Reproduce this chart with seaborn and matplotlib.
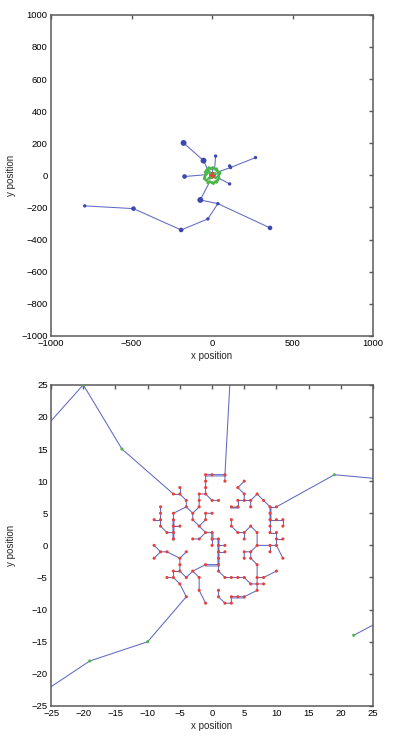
import matplotlib
matplotlib.use('Agg')
import pandas as pd
import matplotlib.pyplot as plt
import seaborn as sns

# --- inner tree (red nodes) ---
inner_chains = [
    [(-6, 8), (-5, 8), (-5, 9)],
    [(-5, 8), (-4, 7), (-4, 6), (-3, 5), (-3, 4), (-2, 3), (-1, 2), (0, 2), (0, 1), (1, 1), (1, 0),
     (1, -1), (1, -2), (1, -3), (1, -4), (2, -5), (3, -5), (4, -5), (5, -5), (6, -6), (7, -6), (8, -6)],
    [(-4, 6), (-6, 5), (-6, 4), (-6, 3), (-6, 2), (-6, 1)],
    [(-6, 3), (-5, 3)],
    [(-6, 2), (-7, 2), (-8, 3), (-8, 4), (-8, 5), (-8, 6)],
    [(-8, 4), (-9, 4)],
    [(-3, 5), (-2, 6), (-2, 7), (-2, 8), (-1, 8), (-1, 9), (-1, 10), (-1, 11), (0, 11), (2, 11), (2, 10)],
    [(-1, 8), (0, 7), (1, 7)],
    [(-2, 3), (-1, 4), (-1, 5), (0, 5)],
    [(-1, 2), (-2, 1), (-3, 1)],
    [(0, 1), (0, 0)],
    [(1, 0), (2, 0)],
    [(1, -1), (2, -1)],
    [(1, -3), (-1, -3), (-3, -4), (-4, -5), (-5, -4), (-5, -3), (-5, -2), (-7, -1), (-8, -1), (-9, 0)],
    [(-8, -1), (-9, -2)],
    [(-5, -2), (-4, -1)],
    [(-5, -4), (-6, -4), (-6, -5), (-7, -5)],
    [(-6, -5), (-5, -6), (-4, -8)],
    [(-3, -4), (-2, -5), (-2, -7), (-1, -9)],
    [(7, -6), (7, -7), (5, -8), (4, -8), (3, -8), (3, -9), (2, -9), (1, -8), (1, -7)],
    [(7, -6), (7, -5), (7, -3), (6, -2), (6, -1), (5, -1), (5, -2)],
    [(7, -5), (8, -5), (10, -4)],
    [(6, -1), (7, 0), (9, 0), (10, 0), (11, -2)],
    [(9, 0), (9, -1)],
    [(7, 0), (7, 2), (6, 3), (5, 2), (4, 2), (3, 3), (3, 4)],
    [(5, 2), (5, 1)],
    [(10, 0), (10, 1), (10, 2), (9, 2), (9, 3), (9, 4), (9, 5), (9, 6), (10, 6)],
    [(10, 1), (11, 1)],
    [(9, 4), (10, 4), (11, 4), (11, 3)],
    [(9, 6), (8, 7), (7, 8), (6, 7), (6, 6)],
    [(6, 7), (5, 7), (4, 7), (4, 6), (3, 6)],
    [(5, 7), (5, 8), (4, 9), (5, 10)],
]

# overlapping (lavender) edges
thick_chains = [
    [(-1, 11), (2, 11)],
    [(-1, -3), (1, -3)],
    [(1, 1), (1, -3)],
    [(-6, 4), (-6, 1)],
    [(0, 2), (0, 1)],
    [(3, 6), (4, 6)],
    [(5, -8), (3, -8)],
    [(9, 6), (9, 4)],
]

# links from the inner tree out to the ring (green nodes)
link_chains = [
    [(-6, 8), (-14, 15), (-20, 25), (-33, 10.4)],
    [(2, 11), (4, 48)],
    [(10, 6), (19, 11), (45, 8.6)],
    [(-4, -8), (-10, -15), (-19, -18), (-37, -30)],
    [(22, -14), (40, -4.4)],
]

# ring of green nodes around the cluster
ring_chains = [
    [(4, 48), (-8, 42), (-28, 38), (-42, 20), (-33, 10.4), (-40, 4), (-45, -10), (-37, -30),
     (-15, -40), (0, -45), (20, -40), (35, -30), (42, -18), (40, -4.4), (45, 8.6),
     (38, 22), (30, 30), (16, 40), (4, 48)],
    [(-8, 42), (-20, 47)],
    [(-28, 38), (-35, 30)],
    [(30, 30), (28, 40)],
    [(-45, -10), (-48, -20)],
    [(0, -45), (8, -50)],
    [(35, -30), (28, -42)],
    [(38, 22), (48, 18)],
    [(-15, -40), (-26, -45)],
]

# far-out blue nodes (upper panel)
outer_chains = [
    [(-28, 38), (-53, 92), (-177, 202)],
    [(16, 40), (22, 120)],
    [(38, 22), (115, 49), (270, 111)],
    [(115, 49), (109, 59)],
    [(-40, 4), (-171, -7)],
    [(42, -18), (109, -53)],
    [(-15, -40), (-73, -153), (36, -176), (360, -327)],
    [(36, -176), (-26, -271), (-192, -340), (-488, -207), (-791, -190)],
]
outer_big = [(-177, 202), (-73, -153), (-53, 92)]
outer_med = [(-171, -7), (-192, -340), (-488, -207), (360, -327)]
green_pts = [(-20, 25), (-14, 15), (19, 11), (22, -14), (-10, -15), (-19, -18)]

EDGE = '#6069c4'
LAV = '#b7bbe4'
RED = '#e8413c'
GREEN = '#4cb748'
BLUE = '#3a48b0'


def chain_frame(chains):
    rows = []
    for i, ch in enumerate(chains):
        for x, y in ch:
            rows.append({'chain': i, 'x': x, 'y': y})
    return pd.DataFrame(rows)


def node_frame():
    seen = {}
    for ch in inner_chains:
        for p in ch:
            seen.setdefault(p, 'inner')
    for ch in link_chains + ring_chains:
        for p in ch:
            if p not in seen:
                seen[p] = 'ring'
    for p in green_pts:
        seen[p] = 'ring'
    for ch in outer_chains:
        for p in ch:
            if p not in seen:
                seen[p] = 'outer'
    rows = []
    for (x, y), kind in seen.items():
        if kind == 'outer':
            mark = 'big' if (x, y) in outer_big else ('med' if (x, y) in outer_med else 'small')
        else:
            mark = 'dot'
        rows.append({'x': x, 'y': y, 'kind': kind, 'mark': mark})
    return pd.DataFrame(rows)


edges = chain_frame(inner_chains + link_chains + ring_chains + outer_chains)
thick = chain_frame(thick_chains)
nodes = node_frame()

sns.set_style('white')
plt.rcParams['font.family'] = ['Liberation Sans', 'DejaVu Sans']

fig = plt.figure(figsize=(3.96, 7.40), dpi=100)
ax1 = fig.add_axes([0.129, 0.546, 0.813, 0.434])
ax2 = fig.add_axes([0.129, 0.046, 0.813, 0.434])

for ax in (ax1, ax2):
    sns.lineplot(data=thick, x='x', y='y', units='chain', estimator=None, sort=False,
                 color=LAV, lw=2.2, ax=ax, legend=False)
    sns.lineplot(data=edges, x='x', y='y', units='chain', estimator=None, sort=False,
                 color=EDGE, lw=0.75, ax=ax, legend=False)
    sns.scatterplot(data=nodes, x='x', y='y', hue='kind', size='mark',
                    palette={'inner': RED, 'ring': GREEN, 'outer': BLUE},
                    sizes={'dot': 5, 'small': 6, 'med': 11, 'big': 18},
                    edgecolor='none', linewidth=0, ax=ax, legend=False, zorder=3)
    for s in ax.spines.values():
        s.set_color('#5a5a5a')
        s.set_linewidth(1.1)
    ax.tick_params(direction='in', top=True, right=True, length=3, width=1,
                   color='#5a5a5a', labelsize=6.8, pad=2.5, labelcolor='black')
    ax.set_xlabel('x position', fontsize=7)
    ax.set_ylabel('y position', fontsize=7)
    ax.xaxis.set_label_coords(0.5, -0.048)
    ax.yaxis.set_label_coords(-0.108, 0.5)

ax1.set_xlim(-1000, 1000)
ax1.set_ylim(-1000, 1000)
ax1.set_xticks(range(-1000, 1001, 500))
ax1.set_yticks(range(-1000, 1001, 200))

ax2.set_xlim(-25, 25)
ax2.set_ylim(-25, 25)
ax2.set_xticks(range(-25, 26, 5))
ax2.set_yticks(range(-25, 26, 5))

fig.savefig('out.png', dpi=100)
